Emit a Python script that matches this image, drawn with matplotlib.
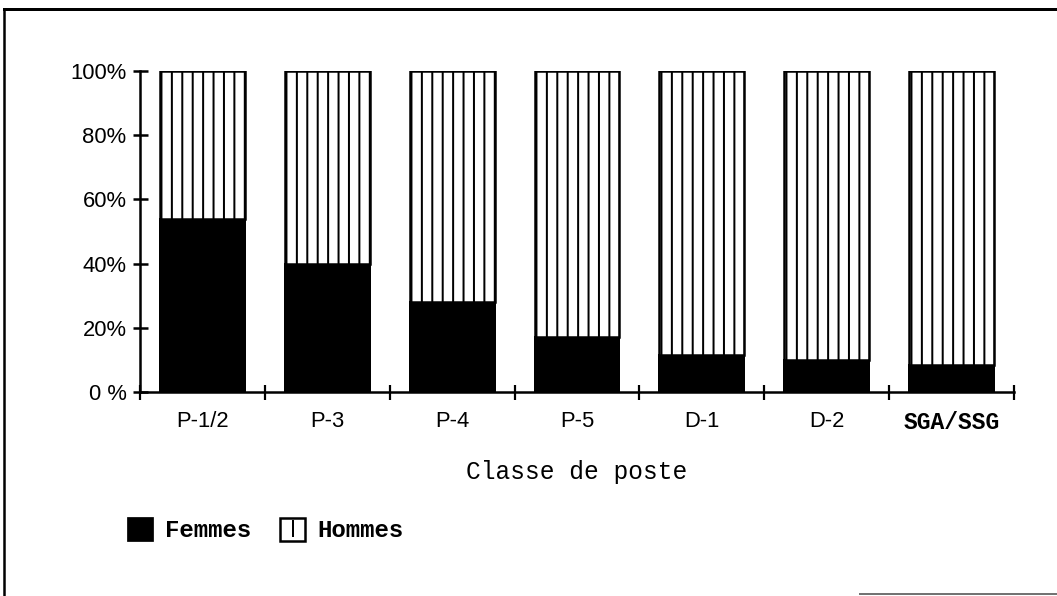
import matplotlib
matplotlib.use("Agg")
import matplotlib.pyplot as plt
from matplotlib.patches import Patch
from matplotlib.lines import Line2D
from matplotlib.legend_handler import HandlerTuple
import numpy as np

categories = ["P-1/2", "P-3", "P-4", "P-5", "D-1", "D-2", "SGA/SSG"]
femmes = [54, 40, 28, 17, 11.5, 10, 8.5]
hommes = [100 - v for v in femmes]
yticks = [0, 20, 40, 60, 80, 100]
ytick_labels = ["0 %", "20%", "40%", "60%", "80%", "100%"]

DPI = 125
W, H = 1057, 596


def pt(px):
    return px * 72.0 / DPI


plt.rcParams['hatch.linewidth'] = pt(2.0)
plt.rcParams['hatch.color'] = 'black'

fig = plt.figure(figsize=(W / DPI, H / DPI), dpi=DPI)
ax = fig.add_axes([140 / W, 1 - 392 / H, (1014 - 140) / W, (392 - 71) / H])

x = np.arange(len(categories))
ax.bar(x, femmes, width=0.68, color='black', edgecolor='black', linewidth=pt(2))
ax.bar(x, hommes, bottom=femmes, width=0.68, color='white', edgecolor='black',
       linewidth=pt(2.5), hatch='||')

ax.set_xlim(-0.5, len(categories) - 0.5)
ax.set_ylim(0, 100)
for s in ['top', 'right']:
    ax.spines[s].set_visible(False)
for s in ['left', 'bottom']:
    ax.spines[s].set_linewidth(pt(2.5))

ax.set_yticks(yticks)
ax.set_yticklabels(ytick_labels, family='Liberation Sans', fontsize=pt(22))
ax.tick_params(axis='y', direction='inout', length=pt(15), width=pt(2.5), pad=pt(6))

ax.set_xticks(x)
ax.set_xticklabels(categories, family='Liberation Sans', fontsize=pt(22))
lab = ax.get_xticklabels()[-1]
lab.set_family('Liberation Mono')
lab.set_fontweight('bold')
lab.set_fontsize(pt(23))
ax.set_xticks(np.arange(-0.5, len(categories)), minor=True)
ax.tick_params(axis='x', which='major', length=0, pad=pt(19))
ax.tick_params(axis='x', which='minor', direction='inout', length=pt(15), width=pt(2.2))

ax.set_xlabel("Classe de poste", family='Liberation Mono', fontsize=pt(24.5),
              labelpad=pt(26))

h_f = Patch(facecolor='black', edgecolor='black')
h_h = (Patch(facecolor='white', edgecolor='black', linewidth=pt(2.5)),
       Line2D([], [], linestyle='none', marker='|', markersize=pt(17),
              markeredgewidth=pt(2), color='black'))
fig.legend(handles=[h_f, h_h], labels=['Femmes', 'Hommes'],
           handler_map={tuple: HandlerTuple(ndivide=1, pad=0)},
           loc='center left', bbox_to_anchor=(116 / W, 1 - 530 / H),
           ncol=2, frameon=False, borderpad=0,
           prop={'family': 'Liberation Mono', 'size': pt(24), 'weight': 'bold'},
           handlelength=1.05, handleheight=1.1, handletextpad=0.5, columnspacing=1.2)

# page frame
fig.add_artist(Line2D([4 / W, 1.0], [1 - 9 / H, 1 - 9 / H], color='black', lw=pt(3),
                      transform=fig.transFigure))
fig.add_artist(Line2D([4 / W, 4 / W], [0, 1 - 9 / H], color='black', lw=pt(2.5),
                      transform=fig.transFigure))
fig.add_artist(Line2D([860 / W, 1.0], [1 - 594 / H, 1 - 594 / H], color='0.45', lw=pt(2),
                      transform=fig.transFigure))

fig.savefig("out.png", dpi=DPI, facecolor='white')
